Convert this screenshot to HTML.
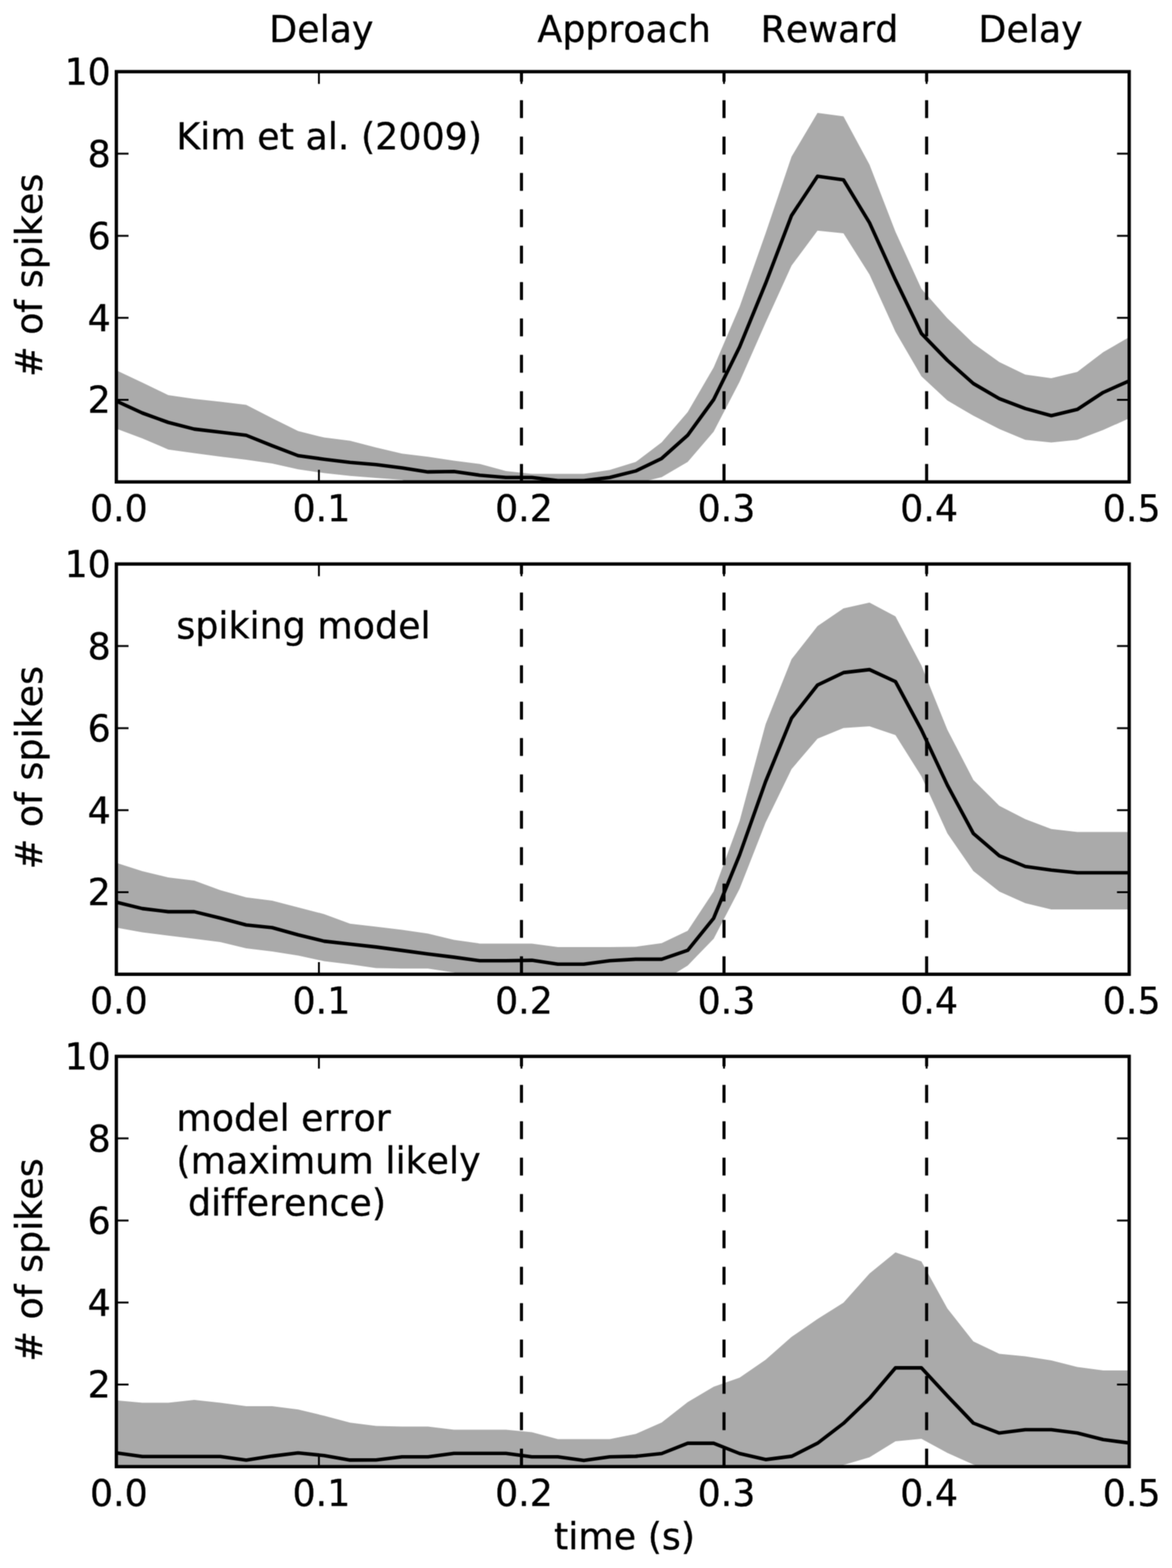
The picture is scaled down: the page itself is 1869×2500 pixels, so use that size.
<!DOCTYPE html>
<html><head><meta charset="utf-8"><title>figure</title>
<style>
html,body{margin:0;padding:0;background:#fff;}
svg{display:block;}
text{font-family:"DejaVu Sans","Liberation Sans",sans-serif;fill:#000;font-kerning:none;font-variant-ligatures:none;font-feature-settings:"kern" 0,"liga" 0;stroke:#000;stroke-width:0.45px;}
</style></head><body>
<svg xmlns="http://www.w3.org/2000/svg" width="1869" height="2500" viewBox="0 0 1869 2500">
<defs><filter id="soft" filterUnits="userSpaceOnUse" x="0" y="0" width="1869" height="2500" color-interpolation-filters="sRGB"><feConvolveMatrix order="3" kernelMatrix="0.0439 0.1217 0.0439 0.1217 0.3377 0.1217 0.0439 0.1217 0.0439" edgeMode="duplicate"/></filter></defs>
<g filter="url(#soft)">
<rect width="1869" height="2500" fill="#fff"/>

<text x="512.5" y="66.6" font-size="58.0" text-anchor="middle">Delay</text>
<text x="995.4" y="66.6" font-size="58.0" text-anchor="middle">Approach</text>
<text x="1322.8" y="66.6" font-size="58.0" text-anchor="middle">Reward</text>
<text x="1643.4" y="66.6" font-size="58.0" text-anchor="middle">Delay</text>
<clipPath id="c0"><rect x="185.55" y="114.25" width="1615.2" height="654.1"/></clipPath>
<g clip-path="url(#c0)">
<polygon points="185.6,590.5 227,610 268.4,630.1 309.8,636 351.2,640.5 392.6,645.4 434,666.7 475.4,687.3 516.9,697.6 558.3,702.7 599.7,713.6 641.1,723.2 682.5,728.2 723.9,734.6 765.3,739.7 806.8,751.1 848.2,755.5 889.6,755.5 931,755.5 972.4,749.2 1013.8,736.6 1055.2,705.3 1096.7,656.9 1138.1,585.7 1179.5,488.9 1220.9,372.1 1262.3,249.7 1303.7,179.9 1345.1,185.6 1386.6,262.5 1428,369.4 1469.4,460.5 1510.8,507.5 1552.2,547.4 1593.6,577.3 1635,597.3 1676.5,603 1717.9,593 1759.3,561.6 1800.7,537.4 1800.7,667 1759.3,685.6 1717.9,701.2 1676.5,705.5 1635,701.2 1593.6,684.1 1552.2,662.8 1510.8,638.6 1469.4,600.1 1428,528.9 1386.6,437.7 1345.1,372.1 1303.7,367.8 1262.3,423.4 1220.9,514.5 1179.5,608.5 1138.1,688.2 1096.7,736.6 1055.2,760.8 1013.8,770.8 972.4,780 931,780 889.6,780 848.2,780 806.8,780 765.3,780 723.9,780 682.5,780 641.1,765.1 599.7,761.9 558.3,758.8 516.9,754.3 475.4,748.2 434,738.9 392.6,733 351.2,728 309.8,722.6 268.4,716.7 227,698.9 185.6,683.5" fill="#aaaaaa"/>
<polyline points="185.6,639.5 227,658.5 268.4,673.5 309.8,684.1 351.2,689 392.6,694 434,710.6 475.4,726.5 516.9,732.2 558.3,737.2 599.7,740.7 641.1,746 682.5,752.4 723.9,751.7 765.3,757.7 806.8,761.3 848.2,761.3 889.6,766.3 931,766.3 972.4,761.3 1013.8,750.9 1055.2,730.9 1096.7,693.9 1138.1,637 1179.5,553 1220.9,451.9 1262.3,343.6 1303.7,281 1345.1,286.7 1386.6,355.1 1428,446.3 1469.4,531.7 1510.8,574.5 1552.2,611.5 1593.6,635.7 1635,651.4 1676.5,662.8 1717.9,652.8 1759.3,625.7 1800.7,607.2" fill="none" stroke="#000" stroke-width="5.6" stroke-linejoin="round" stroke-linecap="butt"/>
<line x1="831.6" y1="768.35" x2="831.6" y2="114.25" stroke="#000" stroke-width="4.9" stroke-dasharray="28.7 29.3"/>
<line x1="1154.6" y1="768.35" x2="1154.6" y2="114.25" stroke="#000" stroke-width="4.9" stroke-dasharray="28.7 29.3"/>
<line x1="1477.7" y1="768.35" x2="1477.7" y2="114.25" stroke="#000" stroke-width="4.9" stroke-dasharray="28.7 29.3"/>
</g>
<path d="M508.6 768.35v-19.4M508.6 114.25v19.4M831.6 768.35v-19.4M831.6 114.25v19.4M1154.6 768.35v-19.4M1154.6 114.25v19.4M1477.7 768.35v-19.4M1477.7 114.25v19.4M185.55 637.5h19.4M1800.7 637.5h-19.4M185.55 506.7h19.4M1800.7 506.7h-19.4M185.55 375.9h19.4M1800.7 375.9h-19.4M185.55 245.1h19.4M1800.7 245.1h-19.4" stroke="#000" stroke-width="3.0" fill="none"/>
<rect x="185.55" y="114.25" width="1615.2" height="654.1" fill="none" stroke="#000" stroke-width="5.3" stroke-linejoin="miter"/>
<text x="176.7" y="658.3" font-size="58.0" text-anchor="end">2</text>
<text x="176.7" y="527.5" font-size="58.0" text-anchor="end">4</text>
<text x="176.7" y="396.7" font-size="58.0" text-anchor="end">6</text>
<text x="176.7" y="265.9" font-size="58.0" text-anchor="end">8</text>
<text x="176.7" y="135.1" font-size="58.0" text-anchor="end">10</text>
<text x="189.6" y="831" font-size="58.0" text-anchor="middle">0.0</text>
<text x="512.6" y="831" font-size="58.0" text-anchor="middle">0.1</text>
<text x="835.6" y="831" font-size="58.0" text-anchor="middle">0.2</text>
<text x="1158.6" y="831" font-size="58.0" text-anchor="middle">0.3</text>
<text x="1481.7" y="831" font-size="58.0" text-anchor="middle">0.4</text>
<text x="1804.7" y="831" font-size="58.0" text-anchor="middle">0.5</text>
<text x="0" y="0" font-size="58.0" text-anchor="middle" transform="translate(66.9 438.9) rotate(-90)"># of spikes</text>
<text x="281.25" y="237.6" font-size="58.0" xml:space="preserve">Kim et al. (2009)</text>
<clipPath id="c1"><rect x="185.55" y="899.25" width="1615.2" height="654.1"/></clipPath>
<g clip-path="url(#c1)">
<polygon points="185.6,1375.7 227,1388.9 268.4,1399 309.8,1404.1 351.2,1419.3 392.6,1430.8 434,1435.9 475.4,1446.8 516.9,1457.4 558.3,1472.7 599.7,1477.4 641.1,1482.4 682.5,1488.6 723.9,1498.6 765.3,1504.4 806.8,1504.4 848.2,1504.4 889.6,1509.9 931,1509.9 972.4,1509.9 1013.8,1509.5 1055.2,1503.8 1096.7,1483.9 1138.1,1421.2 1179.5,1308.7 1220.9,1154.7 1262.3,1051 1303.7,998.3 1345.1,969.9 1386.6,960.8 1428,982.7 1469.4,1061 1510.8,1163.6 1552.2,1243.4 1593.6,1284.7 1635,1306 1676.5,1321.7 1717.9,1326.5 1759.3,1326.5 1800.7,1326.5 1800.7,1449.9 1759.3,1449.9 1717.9,1449.9 1676.5,1449.9 1635,1439.9 1593.6,1421.4 1552.2,1388.7 1510.8,1328.8 1469.4,1237.7 1428,1172.1 1386.6,1157.9 1345.1,1160.7 1303.7,1177.8 1262.3,1226.2 1220.9,1311.6 1179.5,1417 1138.1,1496.7 1096.7,1539.4 1055.2,1565 1013.8,1565 972.4,1565 931,1565 889.6,1565 848.2,1565 806.8,1565 765.3,1565 723.9,1550.5 682.5,1544.3 641.1,1544.3 599.7,1543.6 558.3,1537.4 516.9,1532.4 475.4,1523.5 434,1517.1 392.6,1512 351.2,1501.9 309.8,1496.8 268.4,1491.7 227,1486.6 185.6,1479" fill="#aaaaaa"/>
<polyline points="185.6,1438.4 227,1448.6 268.4,1453.6 309.8,1453.6 351.2,1463.8 392.6,1474.7 434,1479 475.4,1490.5 516.9,1500.6 558.3,1505.2 599.7,1509.9 641.1,1515.4 682.5,1521.1 723.9,1526.1 765.3,1531.8 806.8,1531.8 848.2,1531.1 889.6,1537.3 931,1537.3 972.4,1531.8 1013.8,1529.4 1055.2,1529.4 1096.7,1515.2 1138.1,1463.9 1179.5,1362.9 1220.9,1246.1 1262.3,1145 1303.7,1092.3 1345.1,1072.4 1386.6,1067.6 1428,1086.7 1469.4,1163.6 1510.8,1251.9 1552.2,1328.8 1593.6,1364.4 1635,1381.5 1676.5,1387.2 1717.9,1391.5 1759.3,1391.5 1800.7,1391.5" fill="none" stroke="#000" stroke-width="5.6" stroke-linejoin="round" stroke-linecap="butt"/>
<line x1="831.6" y1="1553.35" x2="831.6" y2="899.25" stroke="#000" stroke-width="4.9" stroke-dasharray="28.7 29.3"/>
<line x1="1154.6" y1="1553.35" x2="1154.6" y2="899.25" stroke="#000" stroke-width="4.9" stroke-dasharray="28.7 29.3"/>
<line x1="1477.7" y1="1553.35" x2="1477.7" y2="899.25" stroke="#000" stroke-width="4.9" stroke-dasharray="28.7 29.3"/>
</g>
<path d="M508.6 1553.35v-19.4M508.6 899.25v19.4M831.6 1553.35v-19.4M831.6 899.25v19.4M1154.6 1553.35v-19.4M1154.6 899.25v19.4M1477.7 1553.35v-19.4M1477.7 899.25v19.4M185.55 1422.5h19.4M1800.7 1422.5h-19.4M185.55 1291.7h19.4M1800.7 1291.7h-19.4M185.55 1160.9h19.4M1800.7 1160.9h-19.4M185.55 1030.1h19.4M1800.7 1030.1h-19.4" stroke="#000" stroke-width="3.0" fill="none"/>
<rect x="185.55" y="899.25" width="1615.2" height="654.1" fill="none" stroke="#000" stroke-width="5.3" stroke-linejoin="miter"/>
<text x="176.7" y="1443.3" font-size="58.0" text-anchor="end">2</text>
<text x="176.7" y="1312.5" font-size="58.0" text-anchor="end">4</text>
<text x="176.7" y="1181.7" font-size="58.0" text-anchor="end">6</text>
<text x="176.7" y="1050.9" font-size="58.0" text-anchor="end">8</text>
<text x="176.7" y="920" font-size="58.0" text-anchor="end">10</text>
<text x="189.6" y="1615.9" font-size="58.0" text-anchor="middle">0.0</text>
<text x="512.6" y="1615.9" font-size="58.0" text-anchor="middle">0.1</text>
<text x="835.6" y="1615.9" font-size="58.0" text-anchor="middle">0.2</text>
<text x="1158.6" y="1615.9" font-size="58.0" text-anchor="middle">0.3</text>
<text x="1481.7" y="1615.9" font-size="58.0" text-anchor="middle">0.4</text>
<text x="1804.7" y="1615.9" font-size="58.0" text-anchor="middle">0.5</text>
<text x="0" y="0" font-size="58.0" text-anchor="middle" transform="translate(66.9 1223.9) rotate(-90)"># of spikes</text>
<text x="281.25" y="1017.8" font-size="58.0" xml:space="preserve">spiking model</text>
<clipPath id="c2"><rect x="185.55" y="1684.25" width="1615.2" height="654.1"/></clipPath>
<g clip-path="url(#c2)">
<polygon points="185.6,2232.7 227,2236.5 268.4,2236.5 309.8,2231.9 351.2,2236.5 392.6,2242.1 434,2242.1 475.4,2247.2 516.9,2257.3 558.3,2268.2 599.7,2273.6 641.1,2274.4 682.5,2274.4 723.9,2279.4 765.3,2279.4 806.8,2279.4 848.2,2283.6 889.6,2294.4 931,2294.4 972.4,2294.4 1013.8,2286.3 1055.2,2268.1 1096.7,2235.6 1138.1,2210.9 1179.5,2196.6 1220.9,2168 1262.3,2131.6 1303.7,2103 1345.1,2077 1386.6,2030.5 1428,1996.8 1469.4,2011.3 1510.8,2086.2 1552.2,2138.8 1593.6,2158.6 1635,2162.5 1676.5,2169.1 1717.9,2179.6 1759.3,2184.9 1800.7,2184.9 1800.7,2350 1759.3,2350 1717.9,2350 1676.5,2350 1635,2350 1593.6,2350 1552.2,2335 1510.8,2316.4 1469.4,2294 1428,2298 1386.6,2323.5 1345.1,2335.7 1303.7,2350 1262.3,2350 1220.9,2350 1179.5,2350 1138.1,2350 1096.7,2350 1055.2,2350 1013.8,2350 972.4,2350 931,2350 889.6,2350 848.2,2350 806.8,2350 765.3,2350 723.9,2350 682.5,2350 641.1,2350 599.7,2350 558.3,2350 516.9,2350 475.4,2350 434,2350 392.6,2350 351.2,2350 309.8,2350 268.4,2350 227,2350 185.6,2350" fill="#aaaaaa"/>
<polyline points="185.6,2316.5 227,2322.3 268.4,2322.3 309.8,2322.3 351.2,2322.3 392.6,2327.9 434,2321.6 475.4,2316.5 516.9,2320.8 558.3,2327.9 599.7,2327.8 641.1,2322.8 682.5,2322.8 723.9,2317.3 765.3,2317.3 806.8,2317.3 848.2,2322.8 889.6,2322.8 931,2328.6 972.4,2322.8 1013.8,2321.9 1055.2,2317.5 1096.7,2301.1 1138.1,2301.1 1179.5,2317.5 1220.9,2327.1 1262.3,2321.9 1303.7,2301.1 1345.1,2269.4 1386.6,2229.6 1428,2180.9 1469.4,2180.9 1510.8,2225.6 1552.2,2269 1593.6,2284.8 1635,2279.5 1676.5,2279.5 1717.9,2284.8 1759.3,2295.3 1800.7,2300.6" fill="none" stroke="#000" stroke-width="5.6" stroke-linejoin="round" stroke-linecap="butt"/>
<line x1="831.6" y1="2338.35" x2="831.6" y2="1684.25" stroke="#000" stroke-width="4.9" stroke-dasharray="28.7 29.3"/>
<line x1="1154.6" y1="2338.35" x2="1154.6" y2="1684.25" stroke="#000" stroke-width="4.9" stroke-dasharray="28.7 29.3"/>
<line x1="1477.7" y1="2338.35" x2="1477.7" y2="1684.25" stroke="#000" stroke-width="4.9" stroke-dasharray="28.7 29.3"/>
</g>
<path d="M508.6 2338.35v-19.4M508.6 1684.25v19.4M831.6 2338.35v-19.4M831.6 1684.25v19.4M1154.6 2338.35v-19.4M1154.6 1684.25v19.4M1477.7 2338.35v-19.4M1477.7 1684.25v19.4M185.55 2207.5h19.4M1800.7 2207.5h-19.4M185.55 2076.7h19.4M1800.7 2076.7h-19.4M185.55 1945.9h19.4M1800.7 1945.9h-19.4M185.55 1815.1h19.4M1800.7 1815.1h-19.4" stroke="#000" stroke-width="3.0" fill="none"/>
<rect x="185.55" y="1684.25" width="1615.2" height="654.1" fill="none" stroke="#000" stroke-width="5.3" stroke-linejoin="miter"/>
<text x="176.7" y="2228.3" font-size="58.0" text-anchor="end">2</text>
<text x="176.7" y="2097.5" font-size="58.0" text-anchor="end">4</text>
<text x="176.7" y="1966.7" font-size="58.0" text-anchor="end">6</text>
<text x="176.7" y="1835.9" font-size="58.0" text-anchor="end">8</text>
<text x="176.7" y="1705" font-size="58.0" text-anchor="end">10</text>
<text x="189.6" y="2400.9" font-size="58.0" text-anchor="middle">0.0</text>
<text x="512.6" y="2400.9" font-size="58.0" text-anchor="middle">0.1</text>
<text x="835.6" y="2400.9" font-size="58.0" text-anchor="middle">0.2</text>
<text x="1158.6" y="2400.9" font-size="58.0" text-anchor="middle">0.3</text>
<text x="1481.7" y="2400.9" font-size="58.0" text-anchor="middle">0.4</text>
<text x="1804.7" y="2400.9" font-size="58.0" text-anchor="middle">0.5</text>
<text x="0" y="0" font-size="58.0" text-anchor="middle" transform="translate(66.9 2008.9) rotate(-90)"># of spikes</text>
<text x="281.25" y="1803.2" font-size="58.0" xml:space="preserve">model error</text>
<text x="281.25" y="1870.6" font-size="58.0" xml:space="preserve">(maximum likely</text>
<text x="281.25" y="1938" font-size="58.0" xml:space="preserve"> difference)</text>
<text x="996" y="2470" font-size="58.0" text-anchor="middle">time (s)</text>
</g></svg></body></html>
